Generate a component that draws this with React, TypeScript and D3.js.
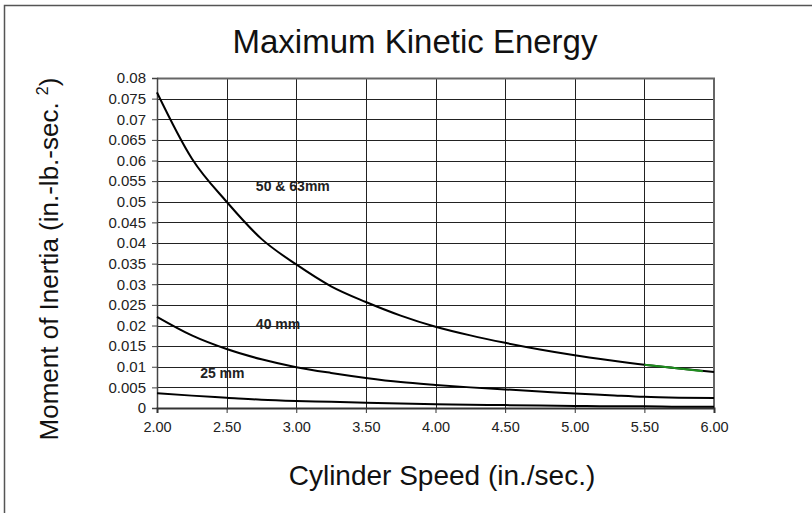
import React, { useRef, useEffect } from 'react';
import * as d3 from 'd3';

const speeds = [2.0, 2.25, 2.5, 2.75, 3.0, 3.25, 3.5, 3.75, 4.0, 4.25, 4.5, 4.75, 5.0, 5.25, 5.5, 5.75, 6.0];
const inertia50and63 = [0.0765, 0.0605, 0.05, 0.041, 0.0348, 0.0295, 0.0257, 0.0224, 0.0197, 0.0176, 0.0158, 0.0142, 0.0128, 0.0116, 0.0105, 0.0096, 0.0087];
const inertia40 = [0.0221, 0.0176, 0.0143, 0.0118, 0.0099, 0.0085, 0.0073, 0.0063, 0.0056, 0.005, 0.0045, 0.004, 0.0035, 0.0031, 0.0027, 0.0025, 0.0024];
const inertia25 = [0.0036, 0.003, 0.0025, 0.002, 0.0017, 0.0015, 0.0013, 0.0011, 0.0009, 0.0008, 0.0007, 0.0006, 0.0005, 0.0004, 0.0004, 0.0003, 0.0003];
// short green segment sitting on the 50 & 63mm curve
const greenSpeeds = [5.5, 5.75, 5.92];
const greenValues = [0.0105, 0.0096, 0.0089];

const xTicks = [2.0, 2.5, 3.0, 3.5, 4.0, 4.5, 5.0, 5.5, 6.0];
const yTicks = [0, 0.005, 0.01, 0.015, 0.02, 0.025, 0.03, 0.035, 0.04, 0.045, 0.05, 0.055, 0.06, 0.065, 0.07, 0.075, 0.08];
const yTickLabels = ['0', '0.005', '0.01', '0.015', '0.02', '0.025', '0.03', '0.035', '0.04', '0.045', '0.05', '0.055', '0.06', '0.065', '0.07', '0.075', '0.08'];

const curveLabels = [
  { text: '50 & 63mm', speed: 2.71, value: 0.0525 },
  { text: '40 mm', speed: 2.71, value: 0.0192 },
  { text: '25 mm', speed: 2.31, value: 0.0072 },
];

const width = 812;
const height = 513;
const font = 'Arial, "Liberation Sans", Helvetica, sans-serif';

const App: React.FC = () => {
  const svgRef = useRef<SVGSVGElement>(null);

  useEffect(() => {
    if (!svgRef.current) return;
    const svg = d3.select(svgRef.current);
    svg.selectAll('*').remove();

    const margin = { left: 157, right: 812 - 714, top: 78, bottom: 513 - 408 };
    const innerWidth = width - margin.left - margin.right;
    const innerHeight = height - margin.top - margin.bottom;

    const xScale = d3.scaleLinear().domain([2, 6]).range([0, innerWidth]);
    const yScale = d3.scaleLinear().domain([0, 0.08]).range([innerHeight, 0]);

    // outer frame (only top and left edges are visible)
    svg.append('path')
      .attr('d', `M4.5,${height + 5} V5.5 H${width + 5}`)
      .style('fill', 'none')
      .style('stroke', '#555')
      .style('stroke-width', 1.5);

    // Title
    svg.append('text')
      .attr('x', 415)
      .attr('y', 53)
      .attr('text-anchor', 'middle')
      .style('font-family', font)
      .style('font-size', '33px')
      .style('fill', '#111')
      .text('Maximum Kinetic Energy');

    const g = svg.append('g')
      .attr('transform', `translate(${margin.left},${margin.top})`);

    // Grid lines
    g.append('g')
      .selectAll('line')
      .data(yTicks.slice(1))
      .join('line')
      .attr('x1', 0)
      .attr('x2', innerWidth)
      .attr('y1', d => Math.round(yScale(d)) + 0.5)
      .attr('y2', d => Math.round(yScale(d)) + 0.5)
      .style('stroke', '#222')
      .style('stroke-width', 1);

    g.append('g')
      .selectAll('line')
      .data(xTicks.slice(1, -1))
      .join('line')
      .attr('x1', d => Math.round(xScale(d)) + 0.5)
      .attr('x2', d => Math.round(xScale(d)) + 0.5)
      .attr('y1', 0)
      .attr('y2', innerHeight)
      .style('stroke', '#222')
      .style('stroke-width', 1);

    // plot border top/right
    g.append('path')
      .attr('d', `M0,0.5 H${innerWidth} V${innerHeight}`)
      .style('fill', 'none')
      .style('stroke', '#666')
      .style('stroke-width', 2);

    // Y axis
    const yAxis = g.append('g')
      .call(d3.axisLeft(yScale)
        .tickValues(yTicks)
        .tickSize(5)
        .tickPadding(6)
        .tickFormat((d, i) => yTickLabels[i]));
    yAxis.select('.domain').style('stroke', '#444').style('stroke-width', 1.5);
    yAxis.selectAll('line').style('stroke', '#444');
    yAxis.selectAll('text')
      .style('font-family', font)
      .style('font-size', '15px')
      .style('fill', '#222');

    // X axis
    const xAxis = g.append('g')
      .attr('transform', `translate(0,${innerHeight})`)
      .call(d3.axisBottom(xScale)
        .tickValues(xTicks)
        .tickSize(5)
        .tickPadding(9)
        .tickFormat(d => (d as number).toFixed(2)));
    xAxis.select('.domain').style('stroke', '#333').style('stroke-width', 2);
    xAxis.selectAll('line').style('stroke', '#333');
    xAxis.selectAll('text')
      .style('font-family', font)
      .style('font-size', '14.5px')
      .style('fill', '#222');

    // Curves
    const line = d3.line<number>()
      .x((d, i) => xScale(speeds[i]))
      .y(d => yScale(d))
      .curve(d3.curveMonotoneX);

    [inertia50and63, inertia40, inertia25].forEach(series => {
      g.append('path')
        .datum(series)
        .attr('d', line)
        .style('fill', 'none')
        .style('stroke', '#000')
        .style('stroke-width', 2);
    });

    const greenLine = d3.line<number>()
      .x((d, i) => xScale(greenSpeeds[i]))
      .y(d => yScale(d));
    g.append('path')
      .datum(greenValues)
      .attr('d', greenLine)
      .style('fill', 'none')
      .style('stroke', '#1f8f1f')
      .style('stroke-width', 2);

    // Curve labels
    curveLabels.forEach(l => {
      g.append('text')
        .attr('x', xScale(l.speed))
        .attr('y', yScale(l.value))
        .style('font-family', font)
        .style('font-size', '14px')
        .style('font-weight', 'bold')
        .style('fill', '#222')
        .text(l.text);
    });

    // X-axis label
    svg.append('text')
      .attr('x', 442)
      .attr('y', 485)
      .attr('text-anchor', 'middle')
      .style('font-family', font)
      .style('font-size', '28px')
      .style('fill', '#111')
      .text('Cylinder Speed (in./sec.)');

    // Y-axis label
    const yLabel = svg.append('text')
      .attr('transform', `translate(58,259) rotate(-90)`)
      .attr('text-anchor', 'middle')
      .style('font-family', font)
      .style('font-size', '26px')
      .style('fill', '#111');
    yLabel.append('tspan').text('Moment of Inertia (in.-lb.-sec. ');
    yLabel.append('tspan')
      .attr('dy', -10)
      .style('font-size', '16px')
      .text('2');
    yLabel.append('tspan')
      .attr('dy', 10)
      .text(')');
  }, []);

  return (
    <div style={{ position: 'absolute', left: 0, top: 0, width, height, background: 'white' }}>
      <svg ref={svgRef} width={width} height={height} style={{ display: 'block' }} />
    </div>
  );
};

export default App;
